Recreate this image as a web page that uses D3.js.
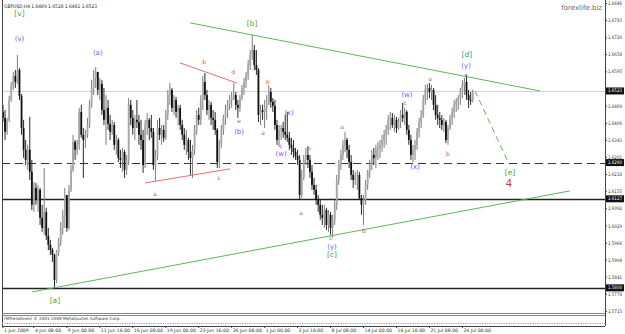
<!DOCTYPE html>
<html><head><meta charset="utf-8">
<script src="https://cdn.jsdelivr.net/npm/d3@7"></script>
<style>body{margin:0;background:#fff}svg{display:block}text{font-family:"DejaVu Sans",Tahoma,sans-serif}</style>
</head><body><svg id="c" width="625" height="334"></svg>
<script>
// ---- data (GBPUSD H4) ----
const firstOpen = 1.6446;
const highs = [1.6472,1.6453,1.6424,1.6505,1.6556,1.6593,1.6600,1.6655,1.6607,1.6512,1.6417,1.6343,1.6325,1.6428,1.6270,1.6189,1.6185,1.6178,1.6167,1.6105,1.6240,1.6094,1.6020,1.5976,1.5947,1.5925,1.5939,1.5984,1.6042,1.6086,1.6167,1.6141,1.6178,1.6251,1.6362,1.6343,1.6343,1.6461,1.6472,1.6387,1.6380,1.6424,1.6490,1.6563,1.6600,1.6611,1.6593,1.6571,1.6563,1.6534,1.6508,1.6490,1.6435,1.6417,1.6409,1.6362,1.6351,1.6307,1.6314,1.6307,1.6288,1.6497,1.6490,1.6453,1.6435,1.6490,1.6435,1.6417,1.6380,1.6417,1.6442,1.6424,1.6435,1.6387,1.6307,1.6417,1.6424,1.6398,1.6398,1.6453,1.6527,1.6552,1.6534,1.6508,1.6501,1.6472,1.6472,1.6417,1.6387,1.6380,1.6351,1.6343,1.6325,1.6398,1.6453,1.6461,1.6508,1.6578,1.6589,1.6527,1.6490,1.6483,1.6453,1.6446,1.6387,1.6343,1.6398,1.6435,1.6472,1.6490,1.6508,1.6519,1.6552,1.6519,1.6490,1.6508,1.6545,1.6571,1.6593,1.6637,1.6673,1.6729,1.6692,1.6673,1.6607,1.6472,1.6472,1.6490,1.6508,1.6545,1.6534,1.6497,1.6490,1.6417,1.6398,1.6398,1.6409,1.6435,1.6446,1.6373,1.6351,1.6343,1.6314,1.6307,1.6288,1.6233,1.6288,1.6314,1.6318,1.6288,1.6251,1.6204,1.6178,1.6141,1.6123,1.6105,1.6105,1.6094,1.6086,1.6079,1.6068,1.6123,1.6215,1.6270,1.6307,1.6343,1.6373,1.6351,1.6325,1.6288,1.6233,1.6226,1.6233,1.6226,1.6141,1.6141,1.6196,1.6233,1.6270,1.6307,1.6314,1.6325,1.6336,1.6343,1.6362,1.6380,1.6398,1.6435,1.6446,1.6442,1.6435,1.6428,1.6424,1.6453,1.6479,1.6461,1.6453,1.6398,1.6362,1.6325,1.6343,1.6387,1.6424,1.6453,1.6508,1.6545,1.6549,1.6552,1.6545,1.6534,1.6508,1.6472,1.6446,1.6435,1.6424,1.6417,1.6398,1.6435,1.6461,1.6490,1.6497,1.6508,1.6534,1.6563,1.6571,1.6582,1.6527,1.6519,1.6528];
const lows = [1.6409,1.6343,1.6362,1.6409,1.6483,1.6527,1.6534,1.6549,1.6490,1.6362,1.6277,1.6251,1.6233,1.6196,1.6086,1.6079,1.6105,1.6079,1.6031,1.6006,1.5995,1.5976,1.5939,1.5921,1.5895,1.5800,1.5818,1.5917,1.5954,1.5995,1.6020,1.6006,1.6013,1.6152,1.6226,1.6270,1.6288,1.6307,1.6351,1.6204,1.6314,1.6351,1.6387,1.6461,1.6508,1.6534,1.6508,1.6490,1.6435,1.6398,1.6325,1.6380,1.6343,1.6362,1.6307,1.6288,1.6262,1.6240,1.6226,1.6204,1.6215,1.6251,1.6398,1.6362,1.6343,1.6387,1.6325,1.6307,1.6222,1.6240,1.6362,1.6343,1.6351,1.6233,1.6193,1.6270,1.6343,1.6325,1.6336,1.6343,1.6417,1.6472,1.6446,1.6435,1.6424,1.6398,1.6380,1.6343,1.6307,1.6288,1.6270,1.6215,1.6204,1.6288,1.6362,1.6398,1.6398,1.6453,1.6490,1.6435,1.6417,1.6398,1.6380,1.6362,1.6240,1.6240,1.6314,1.6362,1.6398,1.6424,1.6453,1.6461,1.6490,1.6453,1.6424,1.6446,1.6490,1.6508,1.6534,1.6563,1.6600,1.6637,1.6600,1.6582,1.6409,1.6398,1.6417,1.6387,1.6417,1.6472,1.6461,1.6446,1.6380,1.6325,1.6318,1.6343,1.6351,1.6343,1.6336,1.6307,1.6288,1.6277,1.6270,1.6251,1.6123,1.6130,1.6196,1.6251,1.6240,1.6204,1.6160,1.6141,1.6105,1.6079,1.6050,1.6031,1.6020,1.6013,1.6006,1.5995,1.5984,1.6031,1.6086,1.6178,1.6233,1.6270,1.6299,1.6277,1.6240,1.6196,1.6167,1.6178,1.6160,1.6123,1.6068,1.6031,1.6105,1.6160,1.6204,1.6233,1.6251,1.6240,1.6270,1.6277,1.6299,1.6314,1.6325,1.6362,1.6380,1.6387,1.6373,1.6369,1.6380,1.6387,1.6409,1.6398,1.6362,1.6325,1.6270,1.6262,1.6270,1.6307,1.6351,1.6387,1.6424,1.6472,1.6490,1.6497,1.6490,1.6453,1.6417,1.6398,1.6387,1.6380,1.6373,1.6332,1.6325,1.6380,1.6398,1.6424,1.6446,1.6453,1.6472,1.6497,1.6508,1.6490,1.6461,1.6472,1.6481];
const closes = [1.6424,1.6373,1.6417,1.6490,1.6541,1.6578,1.6556,1.6600,1.6505,1.6387,1.6307,1.6270,1.6307,1.6226,1.6105,1.6167,1.6123,1.6160,1.6057,1.6020,1.6079,1.5991,1.5958,1.5939,1.5921,1.5829,1.5932,1.5969,1.6020,1.6068,1.6141,1.6020,1.6160,1.6233,1.6336,1.6307,1.6325,1.6446,1.6362,1.6343,1.6362,1.6398,1.6472,1.6534,1.6571,1.6593,1.6527,1.6549,1.6453,1.6417,1.6461,1.6402,1.6373,1.6398,1.6325,1.6343,1.6277,1.6270,1.6299,1.6233,1.6270,1.6472,1.6424,1.6387,1.6417,1.6409,1.6362,1.6343,1.6251,1.6398,1.6417,1.6387,1.6373,1.6251,1.6284,1.6387,1.6362,1.6380,1.6351,1.6435,1.6508,1.6527,1.6461,1.6490,1.6446,1.6461,1.6398,1.6362,1.6325,1.6343,1.6299,1.6277,1.6307,1.6380,1.6435,1.6417,1.6490,1.6556,1.6508,1.6453,1.6472,1.6424,1.6417,1.6380,1.6262,1.6325,1.6380,1.6424,1.6453,1.6472,1.6490,1.6497,1.6508,1.6472,1.6461,1.6497,1.6534,1.6556,1.6582,1.6618,1.6655,1.6673,1.6618,1.6600,1.6435,1.6453,1.6446,1.6461,1.6472,1.6519,1.6483,1.6468,1.6398,1.6343,1.6380,1.6387,1.6373,1.6362,1.6351,1.6325,1.6314,1.6299,1.6284,1.6270,1.6141,1.6204,1.6270,1.6288,1.6270,1.6226,1.6178,1.6160,1.6123,1.6105,1.6068,1.6057,1.6086,1.6031,1.6068,1.6020,1.6050,1.6105,1.6196,1.6251,1.6288,1.6325,1.6343,1.6307,1.6262,1.6215,1.6196,1.6204,1.6215,1.6130,1.6105,1.6123,1.6178,1.6226,1.6251,1.6288,1.6277,1.6307,1.6314,1.6325,1.6343,1.6362,1.6380,1.6417,1.6424,1.6398,1.6417,1.6387,1.6409,1.6435,1.6424,1.6446,1.6380,1.6343,1.6288,1.6307,1.6325,1.6373,1.6409,1.6435,1.6490,1.6527,1.6534,1.6519,1.6527,1.6472,1.6435,1.6424,1.6417,1.6398,1.6409,1.6343,1.6387,1.6424,1.6446,1.6472,1.6483,1.6497,1.6519,1.6545,1.6556,1.6508,1.6490,1.6489,1.6523];

const yTicks = [1.6846,1.6783,1.6720,1.6658,1.6595,1.6532,1.6469,1.6406,1.6343,1.6281,1.6218,1.6155,1.6092,1.6029,1.5966,1.5904,1.5841,1.5778,1.5715];
const xTickBars = [0,15,31,47,63,79,95,111,127,143,159,175,191,207,223];
const xTickLabels = ["1 Jun 2009","4 Jun 08:00","9 Jun 00:00","11 Jun 16:00","16 Jun 08:00","19 Jun 00:00","23 Jun 16:00","26 Jun 08:00","1 Jul 00:00","3 Jul 16:00","8 Jul 08:00","14 Jul 00:00","16 Jul 16:00","21 Jul 08:00","24 Jul 00:00"];

const bidPrice = 1.6523;
const dashedLevel = 1.6260;
const solidLevels = [1.6127, 1.5800];
const markedPrices = [1.6523, 1.6260, 1.6127, 1.5800];

// trend lines: [bar1, price1, bar2, price2]
const greenLines = [[90.8,1.6773,260.7,1.6523],[14.1,1.5785,275.2,1.6156]];
const greenDashed = [[229.1,1.6523,244.7,1.6270]];
const redLines = [[85.9,1.6626,113.6,1.6552],[68.9,1.6185,110.2,1.6237]];

// wave labels: [text, bar, price, kind]
const waveLabels = [
 ["[v]",8,1.6806,"g"],["(v)",8,1.6714,"p"],["(a)",46,1.6662,"p"],["[a]",25.2,1.5752,"g"],
 ["a",73.8,1.6145,"r"],["b",97.6,1.6630,"r"],["c",104.9,1.6204,"r"],["d",111.7,1.6593,"r"],
 ["e",114.6,1.6413,"r"],["(b)",114.6,1.6373,"p"],["[b]",120.9,1.6771,"g"],
 ["a",126.2,1.6369,"r"],["b",128.6,1.6556,"r"],["c",135,1.6323,"r"],["(w)",135,1.6290,"p"],
 ["(x)",138.8,1.6442,"p"],["a",144.7,1.6075,"r"],["b",148.5,1.6314,"r"],["c",159.2,1.5984,"r"],
 ["(y)",159.7,1.5951,"p"],["[c]",159.7,1.5921,"g"],["a",164.6,1.6391,"r"],["b",175.2,1.6009,"r"],
 ["c",195.2,1.6479,"r"],["(w)",196.1,1.6508,"p"],["(x)",200,1.6244,"p"],["a",207.3,1.6567,"r"],
 ["b",216,1.6292,"r"],["c",224.8,1.6584,"r"],["(y)",224.8,1.6614,"p"],["[d]",225.2,1.6657,"t"],
 ["[e]",246.1,1.6222,"g"],["4",245.6,1.6185,"R"]
];
const labelStyle = {g:["#5aa02c",7.5],p:["#6a5cff",7],r:["#c4585a",6],t:["#2f9a86",7.5],R:["#c8402e",10]};

// ---- drawing ----
const svg = d3.select("#c");
const W = 625, H = 334;
const plotL = 2, plotR = 605, plotT = 0, plotB = 313;
const x = d3.scaleLinear().domain([0, 228]).range([3, 472.7]);
const y = d3.scaleLinear().domain([1.5715, 1.6846]).range([311, 3]);

svg.append("rect").attr("width",W).attr("height",H).attr("fill","#fff");

const g = svg.append("g");
// bid line
g.append("line").attr("x1",plotL).attr("x2",plotR).attr("y1",Math.round(y(bidPrice))+0.5).attr("y2",Math.round(y(bidPrice))+0.5)
 .attr("stroke","#d4d4d4").attr("stroke-width",1);
// dashed level
g.append("line").attr("x1",plotL).attr("x2",plotR).attr("y1",Math.round(y(dashedLevel))+0.5).attr("y2",Math.round(y(dashedLevel))+0.5)
 .attr("stroke","#333").attr("stroke-width",1).attr("stroke-dasharray","8,5");
solidLevels.forEach(p=>{
  g.append("line").attr("x1",plotL).attr("x2",plotR).attr("y1",Math.round(y(p))+0.5).attr("y2",Math.round(y(p))+0.5)
   .attr("stroke","#222").attr("stroke-width",1.4);
});

// candles
const bars = closes.map((c,i)=>({i, o: i===0?firstOpen:closes[i-1], h: highs[i], l: lows[i], c}));
const cg = g.append("g");
cg.selectAll("line.w").data(bars).join("line").attr("class","w")
  .attr("x1",d=>x(d.i)).attr("x2",d=>x(d.i)).attr("y1",d=>y(d.h)).attr("y2",d=>y(d.l))
  .attr("stroke",d=>d.c>=d.o?"#7c7c7c":"#2a2a2a").attr("stroke-width",1);
cg.selectAll("rect.b").data(bars).join("rect").attr("class","b")
  .attr("x",d=>x(d.i)-0.9).attr("width",1.8)
  .attr("y",d=>y(Math.max(d.o,d.c))).attr("height",d=>Math.max(0.8,Math.abs(y(d.o)-y(d.c))))
  .attr("fill",d=>d.c>=d.o?"#a6a6a6":"#111");

// trend lines
const seg = (arr, color, dash) => arr.forEach(a=>{
  g.append("line").attr("x1",x(a[0])).attr("y1",y(a[1])).attr("x2",x(a[2])).attr("y2",y(a[3]))
   .attr("stroke",color).attr("stroke-width",1).attr("stroke-dasharray",dash||null);
});
seg(greenLines,"#5cb85c");
seg(greenDashed,"#5cb85c","6,4");
seg(redLines,"#e07070");

// wave labels
g.selectAll("text.wl").data(waveLabels).join("text").attr("class","wl")
  .attr("x",d=>x(d[1])).attr("y",d=>y(d[2]))
  .attr("text-anchor","middle").attr("dominant-baseline","central")
  .attr("fill",d=>labelStyle[d[3]][0]).attr("font-size",d=>labelStyle[d[3]][1])
  .text(d=>d[0]);

// frame
svg.append("line").attr("x1",plotL+0.5).attr("x2",plotL+0.5).attr("y1",0).attr("y2",326).attr("stroke","#444");
svg.append("line").attr("x1",plotR+0.5).attr("x2",plotR+0.5).attr("y1",0).attr("y2",326).attr("stroke","#444");
svg.append("line").attr("x1",plotL).attr("x2",plotR).attr("y1",plotB+0.5).attr("y2",plotB+0.5).attr("stroke","#888").attr("stroke-width",1);
svg.append("line").attr("x1",plotL).attr("x2",plotR).attr("y1",plotB+2.5).attr("y2",plotB+2.5).attr("stroke","#888").attr("stroke-width",1);
svg.append("line").attr("x1",plotL).attr("x2",plotR).attr("y1",326.5).attr("y2",326.5).attr("stroke","#444");

// subwindow
svg.append("text").attr("x",4).attr("y",320).attr("font-size",4.2).attr("fill","#333")
  .text("(MTrendlines)  © 2001-2009 MetaQuotes Software Corp.");
svg.append("line").attr("x1",plotL).attr("x2",plotR).attr("y1",323.5).attr("y2",323.5)
  .attr("stroke","#8aa0c8").attr("stroke-width",1.2).attr("stroke-dasharray","1.2,1.2");

// title
svg.append("text").attr("x",4).attr("y",8).attr("font-size",4.8).attr("fill","#222")
  .attr("textLength",93).attr("lengthAdjust","spacingAndGlyphs")
  .text("GBPUSD,H4  1.6489 1.6528 1.6481 1.6523");
svg.append("text").attr("x",602).attr("y",10).attr("text-anchor","end").attr("font-size",7).attr("fill","#666")
  .text("forexlife.biz");

// right axis (labels hidden behind marked-price boxes are dropped)
const visTicks = yTicks.filter(t=>markedPrices.every(p=>Math.abs(y(p)-y(t))>4.5));
const ya = d3.axisRight(y).tickValues(visTicks).tickSize(2).tickFormat(d3.format(".4f"));
const ag = svg.append("g").attr("transform",`translate(${plotR},0)`).call(ya);
ag.select(".domain").remove();
ag.selectAll("text").attr("font-size",4.8).attr("fill","#333").attr("x",3)
  .attr("textLength",14).attr("lengthAdjust","spacingAndGlyphs");
ag.selectAll("line").attr("stroke","#444");

// marked prices
const mg = svg.append("g");
markedPrices.forEach(p=>{
  const yy = y(p);
  mg.append("rect").attr("x",plotR+1).attr("y",yy-3.5).attr("width",18).attr("height",7).attr("fill","#111");
  mg.append("text").attr("x",plotR+3).attr("y",yy).attr("dominant-baseline","central").attr("font-size",4.8)
    .attr("textLength",14).attr("lengthAdjust","spacingAndGlyphs").attr("fill","#fff").text(p.toFixed(4));
});

// time axis
const tg = svg.append("g");
xTickBars.forEach((b,k)=>{
  const xx = k===0 ? 3 : x(b);
  tg.append("line").attr("x1",xx).attr("x2",xx).attr("y1",326).attr("y2",328).attr("stroke","#444");
  tg.append("text").attr("x",xx+1).attr("y",332).attr("font-size",4.6).attr("fill","#333").text(xTickLabels[k]);
});
</script></body></html>
